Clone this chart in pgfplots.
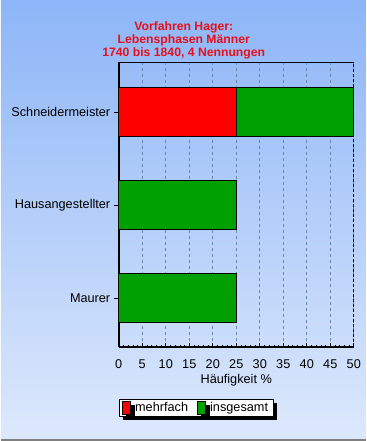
\documentclass[border=0pt]{standalone}
\usepackage{pgfplots}
\pgfplotsset{compat=1.18}
\usepackage{fontspec}
\setmainfont{Liberation Sans}
\usetikzlibrary{shadows}
\definecolor{bgtop}{HTML}{8DB5F7}
\definecolor{bgbot}{HTML}{DDE9FC}
\definecolor{barred}{HTML}{FF0000}
\definecolor{bargreen}{HTML}{00A000}
\definecolor{gridc}{HTML}{6A88B0}
\definecolor{titlered}{HTML}{E8101A}
\begin{document}
\begin{tikzpicture}[x=1bp,y=1bp]
\shade[top color=bgtop,bottom color=bgbot] (0,0) rectangle (365,-441);
\draw[gray, line width=1.5bp] (0,-440) -- (365,-440);
\node[font=\fontsize{12.2bp}{13bp}\selectfont\bfseries, text=titlered, align=center, anchor=north, inner sep=0pt] at (183,-21) {Vorfahren Hager:\\Lebensphasen Männer\\1740 bis 1840, 4 Nennungen};
\begin{axis}[
  at={(118bp,-347bp)}, anchor=south west, scale only axis,
  width=235bp, height=285bp,
  xmin=0, xmax=50, ymin=-0.527, ymax=2.538,
  axis x line*=bottom, axis y line*=left,
  axis line style={line width=2.2bp,-},
  xtick={0,5,...,50}, minor x tick num=4,
  ytick={0,1,2}, yticklabels={Maurer,Hausangestellter,Schneidermeister},
  tick align=inside, major tick length=4bp, minor tick length=2.5bp,
  ytick style={xshift=-5bp},
  tick style={black, line width=0.6bp},
  xmajorgrids, major grid style={gridc, dash pattern=on 3bp off 3bp, line width=0.6bp},
  tick label style={font=\fontsize{12.7bp}{14bp}\selectfont},
  xticklabel style={yshift=-9bp},
  yticklabel style={xshift=-5bp},
  /pgf/number format/assume math mode=true,
  xlabel={Häufigkeit \%},
  label style={font=\fontsize{12.7bp}{14bp}\selectfont},
  xlabel style={yshift=1bp},
  legend style={at={(0,-0.1825)}, anchor=north west, legend columns=2,
    draw=black, fill=white, line width=0.6bp,
    drop shadow={shadow xshift=4bp, shadow yshift=-4bp, fill=black, opacity=1},
    font=\fontsize{12.7bp}{14bp}\selectfont, inner ysep=1bp,
    /tikz/every even column/.append style={column sep=7bp}},
  legend image code/.code={\draw[#1,draw=black,line width=0.6bp] (0bp,-6.5bp) rectangle (8bp,6.5bp);},
  reverse legend,
]
\addplot[xbar, bar shift=0pt, bar width=49bp, fill=bargreen, draw=black, line width=0.8bp] coordinates {(50,2) (25,1) (25,0)};
\addlegendentry{\hspace{2.5bp}insgesamt}
\addplot[xbar, bar shift=0pt, bar width=49bp, fill=barred, draw=black, line width=1.2bp] coordinates {(25,2)};
\addlegendentry{\hspace{2.5bp}mehrfach}
\draw[black, line width=0.8bp] (rel axis cs:0,1) -- (rel axis cs:1,1);
\draw[black, line width=0.8bp, dash pattern=on 3bp off 2bp] (rel axis cs:1,0) -- (rel axis cs:1,1);
\end{axis}
\end{tikzpicture}
\end{document}
